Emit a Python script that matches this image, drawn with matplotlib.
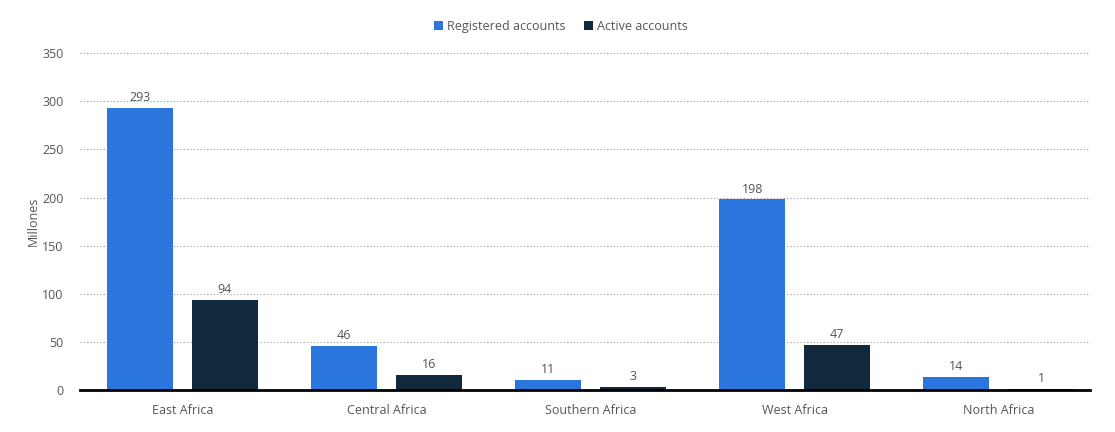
import numpy as np
import matplotlib
matplotlib.use("Agg")
from matplotlib import pyplot as plt

# Mobile money accounts by region (millions)
regions = ["East Africa", "Central Africa", "Southern Africa", "West Africa", "North Africa"]
registered = [293, 46, 11, 198, 14]
active = [94, 16, 3, 47, 1]

plt.rcParams['font.family'] = ['Open Sans', 'DejaVu Sans']

fig = plt.figure(figsize=(11.15, 4.32), dpi=100)
ax = fig.add_axes([0.072, 0.097, 0.906, 0.78])

x = np.arange(len(regions))
w = 0.324
off = 0.208
b1 = ax.bar(x - off, registered, w, color='#2a76dc', label='Registered accounts', zorder=3)
b2 = ax.bar(x + off, active, w, color='#12293d', label='Active accounts', zorder=3)

for bars, vals in ((b1, registered), (b2, active)):
    for rect, v in zip(bars, vals):
        ax.text(rect.get_x() + rect.get_width() / 2, v + 4, str(v),
                ha='center', va='bottom', fontsize=9, color='#555555')

ax.set_xlim(-0.5, 4.45)
ax.set_ylim(0, 350)
ax.set_yticks(range(0, 351, 50))
ax.set_xticks(x)
ax.set_xticklabels(regions)
ax.tick_params(axis='both', length=0, labelsize=9, labelcolor='#555555')
ax.tick_params(axis='x', pad=10)
ax.tick_params(axis='y', pad=12)
ax.set_ylabel("Millones", fontsize=9, color='#555555', labelpad=2)

ax.grid(axis='y', linestyle=(0, (1, 2)), color='#999999', linewidth=0.8, zorder=0)
for s in ['top', 'right', 'left']:
    ax.spines[s].set_visible(False)
ax.spines['bottom'].set_color('black')
ax.spines['bottom'].set_linewidth(2)
ax.spines['bottom'].set_zorder(4)

fig.legend(loc='upper center', bbox_to_anchor=(0.503, 0.98), ncol=2, frameon=False,
           fontsize=9, handlelength=0.7, handleheight=0.7, handletextpad=0.3,
           columnspacing=1.5, labelcolor='#555555')

fig.savefig('out.png', dpi=100)
